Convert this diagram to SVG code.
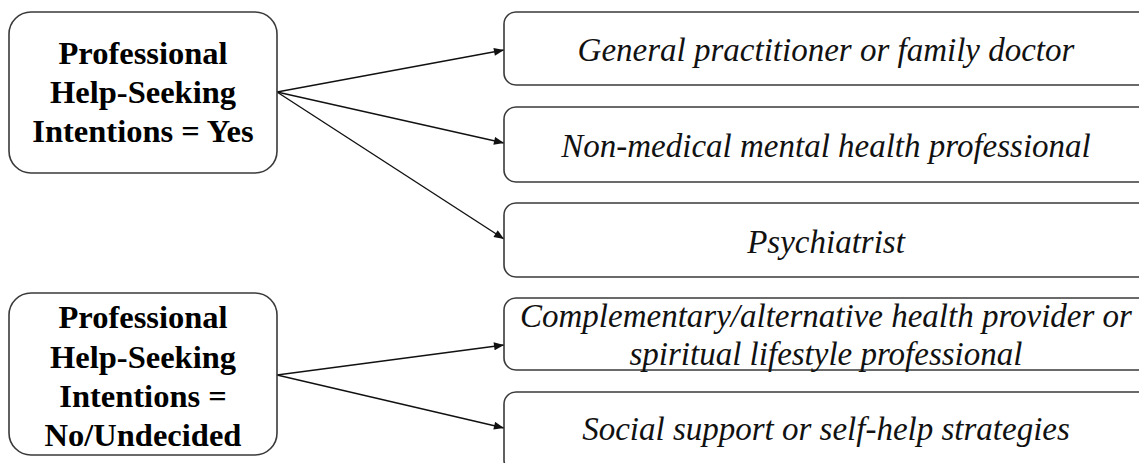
<svg xmlns="http://www.w3.org/2000/svg" width="1139" height="463" viewBox="0 0 1139 463">
<style>
.box{fill:#fff;stroke:#3a3a3a;stroke-width:1.6}
.lt{font-family:"Liberation Serif","Times New Roman",serif;font-weight:bold;font-size:32.5px;text-anchor:middle;fill:#000}
.rt{font-family:"Liberation Serif","Times New Roman",serif;font-style:italic;font-size:33px;text-anchor:middle;fill:#111}
.conn{stroke:#111;stroke-width:1.4;fill:none;marker-end:url(#arr)}
</style>
<defs>
<marker id="arr" viewBox="0 0 10 8" refX="10" refY="4" markerWidth="11" markerHeight="8" markerUnits="userSpaceOnUse" orient="auto">
<path d="M0,0 L10,4 L0,8 Z" fill="#111"/>
</marker>
</defs>
<rect width="1139" height="463" fill="#fff"/>
<g id="connectors">
<line class="conn" x1="277" y1="92" x2="504" y2="50"/>
<line class="conn" x1="277" y1="92" x2="504" y2="143"/>
<line class="conn" x1="277" y1="92" x2="504" y2="239"/>
<line class="conn" x1="277" y1="375" x2="504" y2="345"/>
<line class="conn" x1="277" y1="375" x2="504" y2="428"/>
</g>
<g id="yes">
<rect class="box" x="9" y="12" width="268" height="161" rx="22"/>
<text class="lt" x="143" y="64">Professional</text>
<text class="lt" x="143" y="103">Help-Seeking</text>
<text class="lt" x="143" y="142">Intentions = Yes</text>
</g>
<g id="no">
<rect class="box" x="9" y="293" width="268" height="162" rx="22"/>
<text class="lt" x="143" y="328">Professional</text>
<text class="lt" x="143" y="368">Help-Seeking</text>
<text class="lt" x="143" y="407">Intentions =</text>
<text class="lt" x="143" y="446">No/Undecided</text>
</g>
<g id="gp">
<rect class="box" x="504" y="12" width="660" height="73" rx="12"/>
<text class="rt" x="826" y="61">General practitioner or family doctor</text>
</g>
<g id="nonmed">
<rect class="box" x="504" y="107" width="660" height="75" rx="12"/>
<text class="rt" x="826" y="157">Non-medical mental health professional</text>
</g>
<g id="psych">
<rect class="box" x="504" y="203" width="660" height="74" rx="12"/>
<text class="rt" x="826" y="253">Psychiatrist</text>
</g>
<g id="comp">
<rect class="box" x="504" y="298" width="660" height="72" rx="12"/>
<text class="rt" x="826" y="327">Complementary/alternative health provider or</text>
<text class="rt" x="826" y="365">spiritual lifestyle professional</text>
</g>
<g id="social">
<rect class="box" x="504" y="392" width="660" height="80" rx="12"/>
<text class="rt" x="826" y="440">Social support or self-help strategies</text>
</g>
</svg>
